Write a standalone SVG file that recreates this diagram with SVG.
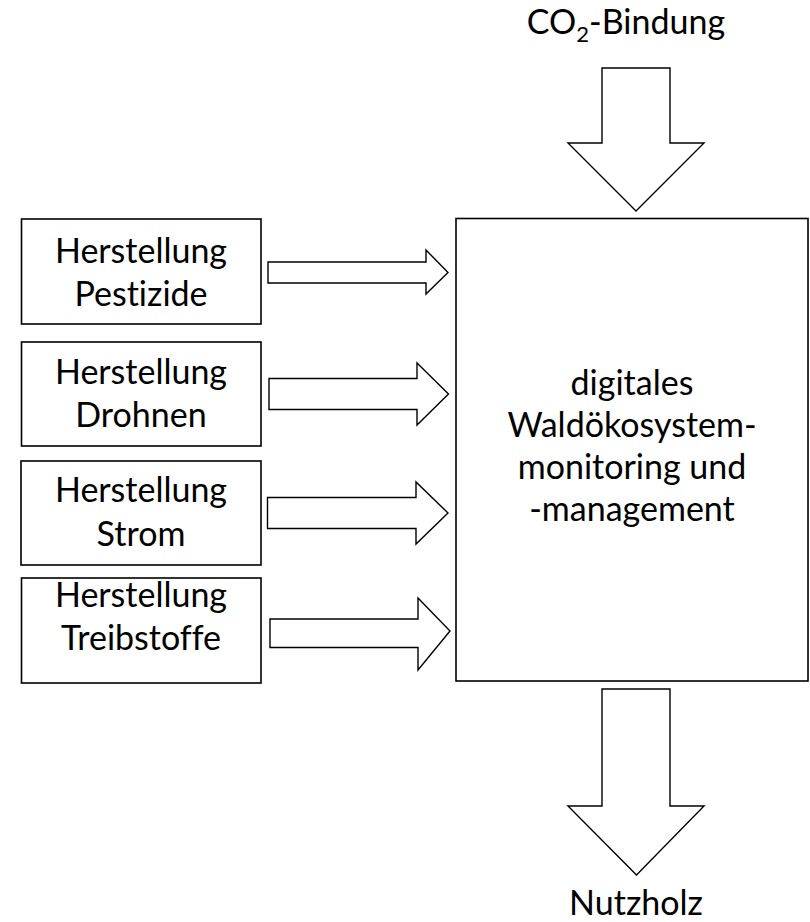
<svg xmlns="http://www.w3.org/2000/svg" width="810" height="922" viewBox="0 0 810 922">
  <style>
    .box { fill: #ffffff; stroke: #000000; stroke-width: 1.6; }
    .arrow { fill: #ffffff; stroke: #000000; stroke-width: 1.4; stroke-linejoin: miter; }
    .lbl { font-family: Lato, "Open Sans", "Liberation Sans", sans-serif; font-size: 34px; fill: #000000; text-anchor: middle; font-variant-ligatures: none; }
  </style>
  <rect width="810" height="922" fill="#ffffff"/>

  <!-- input / output flows -->
  <g id="connectors">
    <polygon class="arrow" points="602,68 670,68 670,143 704,143 636,211 568,143 602,143"/>
    <polygon class="arrow" points="268,262 426,262 426,250 448,272.5 426,294 426,283 268,283"/>
    <polygon class="arrow" points="269,378.5 417,378.5 417,363 448.5,394 417,425 417,409.5 269,409.5"/>
    <polygon class="arrow" points="267.5,497.5 416,497.5 416,482 448,513 416,544 416,528.5 267.5,528.5"/>
    <polygon class="arrow" points="270,619 418,619 418,598 450,631 418,670 418,647.5 270,647.5"/>
    <polygon class="arrow" points="602,689 670,689 670,806 704,806 636.5,875 568,806 602,806"/>
  </g>

  <g id="co2">
    <text class="lbl" x="626" y="34">CO<tspan font-size="22" dy="8">2</tspan><tspan dy="-8">-Bindung</tspan></text>
  </g>

  <g id="pestizide">
    <rect class="box" x="21.5" y="219" width="239.5" height="105"/>
    <text class="lbl" x="141" y="263">Herstellung</text>
    <text class="lbl" x="141" y="306">Pestizide</text>
  </g>

  <g id="drohnen">
    <rect class="box" x="21.5" y="342" width="239.5" height="104"/>
    <text class="lbl" x="141" y="384">Herstellung</text>
    <text class="lbl" x="141" y="427">Drohnen</text>
  </g>

  <g id="strom">
    <rect class="box" x="21" y="461" width="240" height="104"/>
    <text class="lbl" x="141" y="502">Herstellung</text>
    <text class="lbl" x="141" y="546">Strom</text>
  </g>

  <g id="treibstoffe">
    <rect class="box" x="21.5" y="578" width="239.5" height="105"/>
    <text class="lbl" x="141" y="607">Herstellung</text>
    <text class="lbl" x="141" y="650">Treibstoffe</text>
  </g>

  <g id="monitoring">
    <rect class="box" x="456" y="218.5" width="352" height="462.5"/>
    <text class="lbl" x="632" y="395">digitales</text>
    <text class="lbl" x="632" y="437">Waldökosystem-</text>
    <text class="lbl" x="632" y="479">monitoring und</text>
    <text class="lbl" x="632" y="521">-management</text>
  </g>

  <g id="nutzholz">
    <text class="lbl" x="636" y="915">Nutzholz</text>
  </g>
</svg>
